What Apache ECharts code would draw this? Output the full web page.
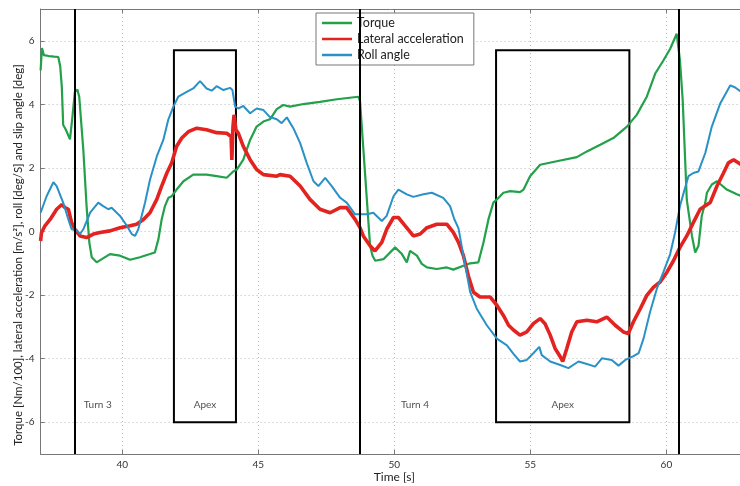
<!DOCTYPE html>
<html>
<head>
<meta charset="utf-8">
<script src="https://cdn.jsdelivr.net/npm/echarts@6/dist/echarts.min.js"></script>
<style>
  html, body { margin: 0; padding: 0; background: #fff; }
  #chart { width: 740px; height: 486px; }
</style>
</head>
<body>
<div id="chart"></div>
<script>
// [time s, value]
var torque = [[37.0,5.07],[37.05,5.77],[37.12,5.55],[37.3,5.52],[37.5,5.5],[37.65,5.49],[37.72,5.2],[37.78,4.55],[37.83,3.35],[37.9,3.25],[37.96,3.14],[38.08,2.9],[38.17,3.61],[38.26,4.39],[38.35,4.47],[38.42,4.24],[38.57,2.57],[38.69,0.8],[38.79,-0.34],[38.88,-0.81],[39.06,-0.97],[39.25,-0.87],[39.55,-0.71],[39.92,-0.76],[40.29,-0.89],[40.65,-0.81],[41.02,-0.71],[41.2,-0.66],[41.33,-0.24],[41.45,0.38],[41.57,0.8],[41.7,1.06],[41.82,1.11],[42.0,1.32],[42.25,1.58],[42.61,1.79],[43.1,1.79],[43.47,1.74],[43.84,1.69],[44.08,1.89],[44.21,1.95],[44.45,2.26],[44.7,2.88],[44.94,3.3],[45.19,3.46],[45.43,3.53],[45.68,3.85],[45.92,3.98],[46.17,3.93],[46.66,4.01],[47.27,4.08],[47.89,4.16],[48.68,4.24],[48.74,4.1],[49.11,-0.45],[49.2,-0.76],[49.3,-0.92],[49.6,-0.87],[50.03,-0.5],[50.28,-0.71],[50.46,-0.97],[50.58,-0.61],[50.83,-0.76],[51.01,-1.02],[51.2,-1.13],[51.56,-1.18],[51.93,-1.13],[52.17,-1.2],[52.54,-1.08],[52.79,-1.0],[53.09,-0.97],[53.28,-0.34],[53.46,0.38],[53.64,0.91],[53.77,1.01],[54.01,1.22],[54.26,1.27],[54.62,1.24],[54.75,1.32],[54.99,1.74],[55.36,2.1],[55.97,2.21],[56.71,2.34],[57.08,2.52],[57.57,2.73],[58.05,2.94],[58.55,3.3],[58.91,3.67],[59.28,4.24],[59.59,4.97],[59.89,5.38],[60.14,5.75],[60.38,6.22],[60.5,5.38],[60.6,4.13],[60.75,1.0],[60.94,-0.14],[61.06,-0.66],[61.18,-0.45],[61.3,0.49],[61.43,0.91],[61.49,1.22],[61.67,1.48],[61.86,1.58],[62.22,1.32],[62.59,1.17],[62.75,1.12]];

var lateralAcc = [[37.0,-0.3],[37.03,-0.05],[37.16,0.18],[37.35,0.38],[37.59,0.7],[37.78,0.85],[37.9,0.75],[38.02,0.7],[38.14,0.28],[38.26,0.07],[38.45,-0.14],[38.69,-0.19],[38.94,-0.08],[39.18,-0.03],[39.55,0.02],[39.92,0.12],[40.29,0.18],[40.53,0.23],[40.78,0.38],[41.02,0.59],[41.27,1.01],[41.45,1.43],[41.64,1.84],[41.82,2.16],[42.0,2.68],[42.19,2.94],[42.43,3.14],[42.74,3.25],[43.1,3.2],[43.47,3.11],[43.84,3.09],[44.0,2.99],[44.03,2.25],[44.07,3.3],[44.11,3.67],[44.18,3.2],[44.27,3.09],[44.45,2.68],[44.7,2.26],[44.94,1.95],[45.19,1.79],[45.68,1.74],[45.8,1.79],[46.17,1.74],[46.54,1.43],[46.9,1.01],[47.27,0.7],[47.64,0.59],[48.01,0.75],[48.25,0.75],[48.56,0.38],[48.74,0.12],[48.86,-0.14],[49.11,-0.45],[49.29,-0.61],[49.54,-0.34],[49.72,0.07],[49.97,0.44],[50.15,0.44],[50.4,0.18],[50.7,-0.14],[50.95,-0.08],[51.2,0.12],[51.56,0.23],[51.93,0.23],[52.17,-0.03],[52.36,-0.34],[52.54,-0.76],[52.72,-1.39],[52.91,-1.91],[53.15,-2.06],[53.52,-2.06],[53.77,-2.32],[54.01,-2.64],[54.2,-2.95],[54.38,-3.1],[54.62,-3.26],[54.87,-3.16],[55.11,-2.9],[55.36,-2.74],[55.54,-2.9],[55.73,-3.26],[55.91,-3.68],[56.1,-3.94],[56.19,-4.09],[56.34,-3.68],[56.52,-3.16],[56.71,-2.84],[57.08,-2.79],[57.44,-2.84],[57.81,-2.69],[58.12,-2.95],[58.42,-3.16],[58.6,-3.21],[58.79,-2.84],[59.04,-2.43],[59.28,-2.01],[59.53,-1.75],[59.77,-1.59],[60.02,-1.28],[60.26,-0.92],[60.5,-0.5],[60.75,-0.14],[60.99,0.28],[61.24,0.7],[61.61,0.91],[61.86,1.43],[62.1,1.84],[62.28,2.16],[62.47,2.26],[62.75,2.1]];

var rollAngle = [[37.0,0.59],[37.22,1.11],[37.47,1.55],[37.59,1.43],[37.83,0.91],[38.02,0.38],[38.14,0.07],[38.33,0.04],[38.45,-0.08],[38.57,0.07],[38.82,0.59],[39.12,0.91],[39.3,0.8],[39.49,0.7],[39.61,0.75],[39.92,0.49],[40.17,0.18],[40.35,-0.08],[40.47,-0.14],[40.59,0.07],[40.84,0.91],[41.02,1.63],[41.27,2.36],[41.51,2.88],[41.69,3.51],[41.88,3.93],[42.06,4.24],[42.37,4.39],[42.61,4.5],[42.86,4.73],[43.1,4.5],[43.29,4.43],[43.47,4.57],[43.72,4.45],[43.96,4.52],[44.05,4.45],[44.15,3.93],[44.27,3.87],[44.45,3.95],[44.7,3.72],[44.94,3.87],[45.19,3.82],[45.43,3.6],[45.68,3.53],[45.86,3.41],[46.05,3.59],[46.29,3.25],[46.54,2.78],[46.78,2.16],[47.03,1.58],[47.21,1.43],[47.46,1.69],[47.7,1.43],[48.01,1.06],[48.25,0.91],[48.56,0.54],[48.99,0.54],[49.23,0.59],[49.54,0.33],[49.72,0.49],[49.97,1.11],[50.15,1.32],[50.46,1.17],[50.7,1.09],[51.07,1.17],[51.38,1.22],[51.8,1.06],[52.05,0.8],[52.2,0.4],[52.36,0.1],[52.54,-0.76],[52.79,-1.91],[53.03,-2.43],[53.4,-2.95],[53.77,-3.37],[54.14,-3.58],[54.38,-3.85],[54.62,-4.09],[54.87,-4.04],[55.11,-3.83],[55.33,-3.63],[55.42,-3.89],[55.73,-4.09],[56.1,-4.2],[56.4,-4.3],[56.77,-4.09],[57.08,-4.17],[57.38,-4.25],[57.63,-3.99],[57.99,-4.04],[58.24,-4.22],[58.49,-4.04],[58.79,-3.92],[58.98,-3.83],[59.16,-3.37],[59.4,-2.53],[59.65,-1.8],[59.89,-1.28],[60.14,-0.71],[60.32,-0.03],[60.5,0.8],[60.63,1.2],[60.81,1.74],[60.99,1.84],[61.18,1.89],[61.43,2.47],[61.67,3.3],[61.98,4.03],[62.35,4.6],[62.53,4.53],[62.75,4.39]];

// turn markers and apex boxes (time s)
var turnLines = [38.27, 48.74, 60.44];
var apexBoxes = [[41.9, 44.18], [53.74, 58.64]];
var boxTop = 5.7, boxBottom = -6;
var notes = [[39.1, -5.45, 'Turn 3'], [43.04, -5.45, 'Apex'], [50.76, -5.45, 'Turn 4'], [56.19, -5.45, 'Apex']];

var yTitle = 'Torque [Nm/100], lateral acceleration [m/s²], roll [deg/S] and slip angle [deg]';

var FONT = 'Lato';
var chart = echarts.init(document.getElementById('chart'));

var option = {
  animation: false,
  textStyle: { fontFamily: FONT },
  grid: { left: 40.6, top: 9, right: -8, bottom: 32, outerBoundsMode: 'none', containLabel: false },
  graphic: [{
    type: 'text',
    x: 18,
    y: 255,
    rotation: Math.PI / 2,
    style: {
      text: yTitle,
      fontFamily: FONT,
      fontSize: 11.5,
      fill: '#222',
      align: 'center',
      verticalAlign: 'middle'
    }
  }],
  legend: {
    orient: 'vertical',
    left: 316,
    top: 13,
    data: ['Torque', 'Lateral acceleration', 'Roll angle'],
    icon: 'rect',
    itemWidth: 30,
    itemHeight: 2.5,
    itemGap: 2,
    padding: [3, 10, 3, 6],
    backgroundColor: '#fff',
    borderColor: '#777',
    borderWidth: 1,
    borderRadius: 0,
    textStyle: { fontFamily: FONT, fontSize: 12.5, color: '#222', lineHeight: 14 }
  },
  xAxis: [{
    type: 'value',
    min: 37, max: 63,
    splitNumber: 5, minInterval: 5, maxInterval: 5,
    name: 'Time [s]',
    nameLocation: 'middle',
    nameGap: 17,
    nameMoveOverlap: false,
    nameTextStyle: { fontFamily: FONT, fontSize: 12, color: '#222' },
    axisLine: { onZero: false, lineStyle: { color: '#777' } },
    axisTick: { inside: true, length: 4, lineStyle: { color: '#777' } },
    axisLabel: { fontSize: 10, color: '#333', margin: 6, showMinLabel: false, showMaxLabel: false },
    splitLine: { show: true, lineStyle: { color: '#bbb', type: [1, 3] } }
  }, {
    type: 'value',
    position: 'top',
    min: 37, max: 63,
    splitNumber: 5, minInterval: 5, maxInterval: 5,
    axisLine: { onZero: false, lineStyle: { color: '#777' } },
    axisTick: { inside: true, length: 4, lineStyle: { color: '#777' } },
    axisLabel: { show: false },
    splitLine: { show: false }
  }],
  yAxis: {
    type: 'value',
    min: -7, max: 7,
    splitNumber: 7, minInterval: 2, maxInterval: 2,
    axisLine: { show: true, onZero: false, lineStyle: { color: '#777' } },
    axisTick: { show: true, inside: true, length: 4, lineStyle: { color: '#777' } },
    axisLabel: { fontSize: 10, color: '#333', margin: 6, showMinLabel: false, showMaxLabel: false },
    splitLine: { show: true, lineStyle: { color: '#bbb', type: [1, 3] } }
  },
  series: [{
    name: 'Torque',
    type: 'line',
    data: torque,
    showSymbol: false,
    color: '#22a04a',
    lineStyle: { width: 2.2, color: '#22a04a' }
  }, {
    name: 'Lateral acceleration',
    type: 'line',
    data: lateralAcc,
    showSymbol: false,
    color: '#e3231f',
    lineStyle: { width: 3.6, color: '#e3231f' }
  }, {
    name: 'Roll angle',
    type: 'line',
    data: rollAngle,
    showSymbol: false,
    color: '#2a91c7',
    lineStyle: { width: 2, color: '#2a91c7' }
  }, {
    name: 'notes',
    type: 'scatter',
    data: notes,
    symbolSize: 0,
    silent: true,
    z: 5,
    label: {
      show: true,
      position: 'inside',
      formatter: function (p) { return p.data[2]; },
      fontFamily: FONT,
      fontSize: 10,
      color: '#222'
    },
    markLine: {
      silent: true,
      symbol: ['none', 'none'],
      label: { show: false },
      lineStyle: { color: '#000', width: 2, type: 'solid' },
      data: turnLines.map(function (t) { return { xAxis: t }; })
    },
    markArea: {
      silent: true,
      itemStyle: { color: 'rgba(0,0,0,0)', borderColor: '#000', borderWidth: 2 },
      data: apexBoxes.map(function (b) {
        return [{ coord: [b[0], boxTop] }, { coord: [b[1], boxBottom] }];
      })
    }
  }]
};

chart.setOption(option);
</script>
</body>
</html>
